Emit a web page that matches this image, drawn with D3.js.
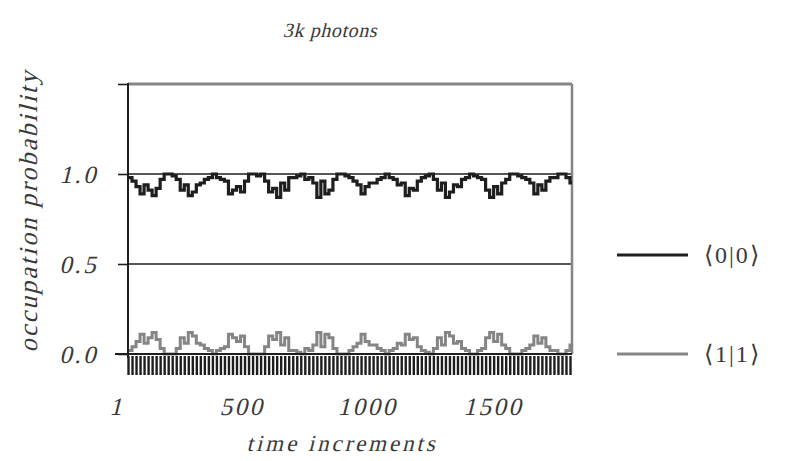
<!DOCTYPE html>
<html>
<head>
<meta charset="utf-8">
<script src="https://cdn.jsdelivr.net/npm/d3@7/dist/d3.min.js"></script>
<style>
  html, body { margin: 0; padding: 0; background: #fff; }
  svg { display: block; }
  svg text { font-family: "Liberation Serif", "Times New Roman", serif !important; font-style: normal; fill: #3a3a3a; }
</style>
</head>
<body>
<svg id="chart" width="787" height="461"></svg>
<script>
// ---- data ----
const title = "3k photons";
const xLabel = "time increments";
const yLabel = "occupation  probability";
const seriesNames = ["\u27E80|0\u27E9", "\u27E81|1\u27E9"];
const xTickValues = [1, 500, 1000, 1500];
const yTickValues = [0, 0.5, 1.0];
const xDomain = [48, 1816];
const yDomain = [0, 1.5];
const sampleStart = 48;
const sampleStep = 16;

// <0|0> occupation (percent), one value per 16 time increments
const p00 = [
  98, 96, 93, 89, 94, 91, 88, 92, 97,
  100, 100, 99,
  97, 91, 94, 88, 90, 94, 95, 97, 98,
  100,
  98, 97, 96, 89, 91, 93, 90, 96,
  100, 100, 99, 100,
  96, 90, 92, 87, 95, 91, 98, 98, 99,
  100,
  97, 98, 95, 87, 96, 89, 91, 97,
  100, 100, 99,
  98, 96, 94, 89, 93, 95, 95, 97, 98,
  100,
  98, 97, 94, 95, 88, 92, 91, 96, 98, 99,
  100,
  97, 91, 95, 87, 90, 94, 93, 97, 98,
  100, 99,
  98, 97, 91, 87, 93, 89, 95, 97,
  100, 100, 99,
  98, 97, 95, 89, 94, 91, 96, 98, 98,
  100,
  100, 98, 95
];
// <1|1> occupation (percent)
const p11 = [
  2, 4, 7, 11, 6, 9, 12, 8, 3,
  0, 0, 0,
  3, 9, 6, 12, 10, 6, 5, 3, 2,
  0,
  2, 3, 4, 11, 9, 7, 10, 4,
  0, 0, 0, 0,
  4, 10, 8, 12, 5, 9, 2, 2, 1,
  0,
  3, 2, 5, 12, 4, 11, 9, 3,
  0, 0, 0,
  2, 4, 6, 11, 7, 5, 5, 3, 2,
  0,
  2, 3, 6, 5, 11, 8, 9, 4, 2, 1,
  0,
  3, 9, 5, 12, 10, 6, 7, 3, 2,
  0, 0,
  2, 3, 9, 12, 7, 11, 5, 3,
  0, 0, 0,
  2, 3, 5, 10, 6, 9, 4, 2, 2,
  0,
  0, 2, 5
];

// ---- drawing ----
(function () {
const svg = d3.select("#chart");
const mLeft = 128, mRight = 572, mTop = 84, mBottom = 354;
const x = d3.scaleLinear().domain(xDomain).range([mLeft, mRight]);
const y = d3.scaleLinear().domain(yDomain).range([mBottom, mTop]);
const slant = "skewX(-14)";

const black = "#1e1e1e", gray = "#858585";

function toPoints(arr) {
  const pts = arr.map((v, i) => [sampleStart + i * sampleStep, v / 100]);
  pts.push([xDomain[1], arr[arr.length - 1] / 100]);
  return pts;
}

// dense time-increment ticks (comb)
const combTicks = d3.range(p00.length + 1).map(i => sampleStart + i * sampleStep).filter(t => t <= xDomain[1]);
const comb = svg.append("g").attr("transform", `translate(0,${mBottom + 2})`)
  .call(d3.axisBottom(x).tickValues(combTicks).tickSize(19).tickFormat(""));
comb.select(".domain").remove();
comb.selectAll(".tick line").attr("stroke", black).attr("stroke-width", 2.4);

// x tick labels (slanted)
const xAxis = svg.append("g").attr("transform", `translate(0,${mBottom})`)
  .call(d3.axisBottom(x).tickValues(xTickValues).tickSize(0).tickFormat(d3.format("d")));
xAxis.select(".domain").remove();
xAxis.attr("font-family", null);
xAxis.selectAll("text").attr("font-size", 25).attr("letter-spacing", 2.5)
  .attr("y", 0).attr("dy", 0).attr("transform", `translate(0,61) ${slant}`);

// y axis with ticks
const yAxis = svg.append("g").attr("transform", `translate(${mLeft},0)`)
  .call(d3.axisLeft(y).tickValues(yTickValues.concat([1.5])).tickSize(10)
    .tickFormat(d => d === 1.5 ? "" : d3.format(".1f")(d)));
yAxis.select(".domain").remove();
yAxis.attr("font-family", null);
yAxis.selectAll(".tick line").attr("stroke", black).attr("stroke-width", 1.6);
yAxis.selectAll("text").attr("font-size", 25).attr("letter-spacing", 2.5)
  .attr("x", 0).attr("dy", 0).attr("transform", `translate(-30,8) ${slant}`);

// gridlines at 0.5 and 1.0
svg.append("g").selectAll("line").data([0.5, 1.0]).join("line")
  .attr("x1", mLeft).attr("x2", mRight).attr("y1", d => y(d)).attr("y2", d => y(d))
  .attr("stroke", black).attr("stroke-width", 1.6);

// frame
svg.append("line").attr("x1", mLeft).attr("x2", mRight).attr("y1", y(1.5)).attr("y2", y(1.5))
  .attr("stroke", gray).attr("stroke-width", 3);
svg.append("line").attr("x1", mRight).attr("x2", mRight).attr("y1", y(1.5)).attr("y2", y(0))
  .attr("stroke", gray).attr("stroke-width", 2.5);

// series
const line = d3.line().x(d => x(d[0])).y(d => y(d[1])).curve(d3.curveStepAfter);
svg.append("path").attr("d", line(toPoints(p11))).attr("fill", "none")
  .attr("stroke", gray).attr("stroke-width", 3);
svg.append("path").attr("d", line(toPoints(p00))).attr("fill", "none")
  .attr("stroke", black).attr("stroke-width", 3.2);

// axes lines
svg.append("line").attr("x1", mLeft).attr("x2", mLeft).attr("y1", y(1.5) - 1).attr("y2", y(0) + 4)
  .attr("stroke", black).attr("stroke-width", 2);
svg.append("line").attr("x1", mLeft - 13).attr("x2", mRight).attr("y1", y(0)).attr("y2", y(0))
  .attr("stroke", black).attr("stroke-width", 2);

// titles
svg.append("text").attr("transform", `translate(${(mLeft + mRight) / 2 - 20},37) ${slant}`)
  .attr("text-anchor", "middle").attr("font-size", 20).attr("letter-spacing", 0.6).text(title);
svg.append("text").attr("transform", `translate(${(mLeft + mRight) / 2 - 8},451) ${slant}`)
  .attr("text-anchor", "middle").attr("font-size", 23).attr("letter-spacing", 2.9).text(xLabel);
svg.append("text").attr("transform", `translate(37,${(mTop + mBottom) / 2 - 8}) rotate(-90) ${slant}`)
  .attr("text-anchor", "middle").attr("font-size", 26).attr("letter-spacing", 2.2).text(yLabel);

// legend
const legend = svg.append("g");
const legendY = [y(0.55), y(0)];
const colors = [black, gray];
seriesNames.forEach((name, i) => {
  legend.append("line").attr("x1", 617).attr("x2", 688).attr("y1", legendY[i]).attr("y2", legendY[i])
    .attr("stroke", colors[i]).attr("stroke-width", 3);
  legend.append("text").attr("x", 704).attr("y", legendY[i] + 8)
    .attr("font-size", 24).attr("letter-spacing", 2).text(name);
});
})();
</script>
</body>
</html>
